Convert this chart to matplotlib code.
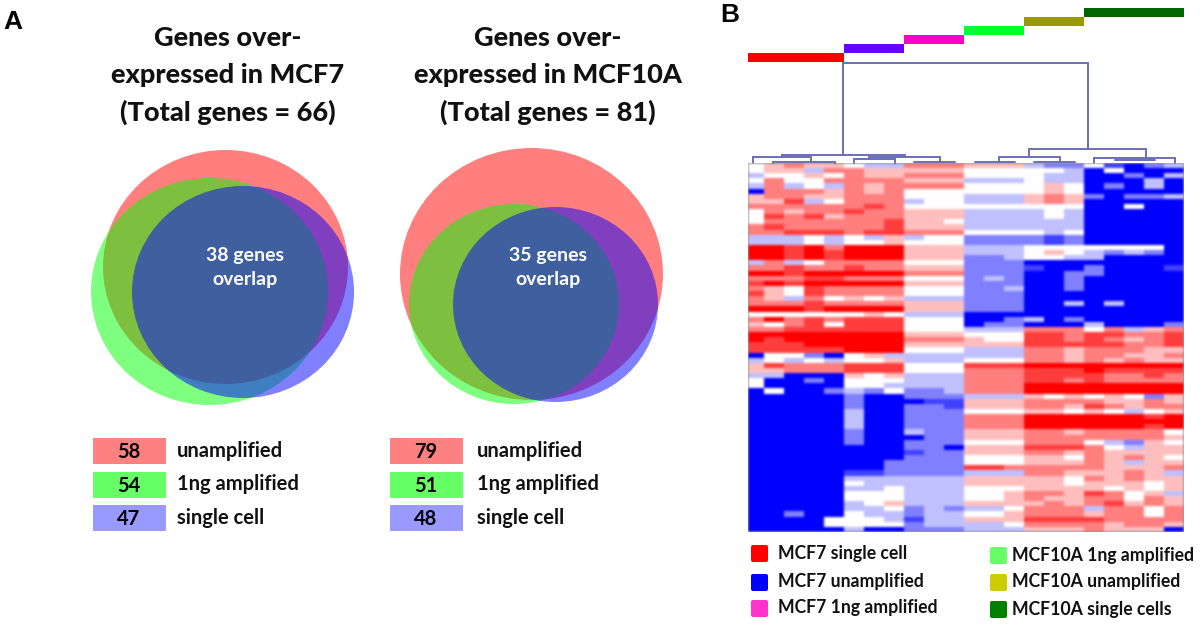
#!/usr/bin/env python3
"""
Venn diagrams of over-expressed genes (A) and clustered heatmap (B)
"""

import numpy as np
import matplotlib
matplotlib.use('Agg')
import matplotlib.pyplot as plt
from matplotlib.colors import to_rgba
from matplotlib.patches import Ellipse, FancyBboxPatch, Rectangle

W, H = 1200, 624
FONT = 'Lato'

# Venn shapes: x, y, width, height (pixels)
VENN_COLORS = ['#ff0000', '#00ff00', '#0000ff']
VENN_MCF7 = [(225.5, 267, 245, 234), (209.5, 291.5, 237, 227), (243, 292, 222, 212)]
VENN_MCF10A = [(531.5, 274, 263, 252), (514, 304, 210, 200), (555.5, 304.5, 205, 195)]

TITLE_MCF7 = ['Genes over-', 'expressed in MCF7', '(Total genes = 66)']
TITLE_MCF10A = ['Genes over-', 'expressed in MCF10A', '(Total genes = 81)']
OVERLAP_MCF7 = ['38 genes', 'overlap']
OVERLAP_MCF10A = ['35 genes', 'overlap']

VENN_LABELS = ['unamplified', '1ng amplified', 'single cell']
COUNTS_MCF7 = [58, 54, 47]
COUNTS_MCF10A = [79, 51, 48]
CHIP_COLORS = ['#ff8080', '#66ff66', '#9999ff']

# Sample colour bar above the heatmap
SAMPLE_COLORS = ['#ff0000', '#6600ff', '#ff00cc', '#00ff33', '#999900', '#006600']
SAMPLE_EDGES = [0.2, 5, 8, 11, 14, 17, 22]

LEGEND_LEFT = ['MCF7 single cell', 'MCF7 unamplified', 'MCF7 1ng amplified']
LEGEND_LEFT_COLORS = ['#ff0000', '#0000ff', '#ff33cc']
LEGEND_RIGHT = ['MCF10A 1ng amplified', 'MCF10A unamplified', 'MCF10A single cells']
LEGEND_RIGHT_COLORS = ['#66ff66', '#cccc00', '#008000']

# Dendrogram segments: x0, y0, x1, y1 (pixels)
DENDRO = [
    (843, 154, 843, 63), (843, 63, 1088, 63), (1088, 63, 1088, 149),
    (1029, 149, 1146, 149), (1029, 149, 1029, 157), (1146, 149, 1146, 158),
    (999, 157, 1060, 157), (999, 157, 999, 162), (1060, 157, 1060, 162),
    (975, 162, 1015, 162), (1034, 162, 1075, 162),
    (1094, 158, 1175, 158), (1094, 158, 1094, 163), (1175, 158, 1175, 163),
    (1115, 160, 1155, 160),
    (782, 155, 905, 155), (782, 155, 782, 157), (905, 155, 905, 157),
    (753, 157, 811, 157), (753, 157, 753, 163), (811, 157, 811, 162),
    (773, 162, 835, 162), (773, 162, 773, 164), (835, 162, 835, 164),
    (869, 157, 940, 157), (869, 157, 869, 159), (940, 157, 940, 162),
    (854, 159, 895, 159), (854, 159, 854, 164), (895, 159, 895, 164),
    (914, 162, 955, 162),
]

# Heatmap rows, one digit per column: 0 = full blue, 4 = white, 8 = full red
# groups of columns are split by spaces to keep them readable
HEAT_ROWS = [
    '45655 433 666 555 322 41023',
    '45536 655 555 444 443 04000',
    '34454 655 666 444 433 00203',
    '46446 666 555 333 433 00030',
    '36343 656 666 444 454 02030',
    '06665 656 444 444 454 00000',
    '56655 666 444 333 565 20223',
    '55734 666 344 333 565 00000',
    '66666 676 444 444 444 00400',
    '46566 766 555 333 343 00000',
    '47675 666 555 333 343 00000',
    '46666 667 554 333 333 00000',
    '67666 667 555 333 333 00000',
    '66777 677 666 444 434 00000',
    '33343 435 344 222 212 00000',
    '33343 445 444 222 212 00000',
    '88786 888 555 333 444 44440',
    '88787 888 555 333 454 32320',
    '88787 888 555 223 443 30000',
    '36346 666 444 222 000 00000',
    '66766 766 555 222 100 20001',
    '88788 888 666 222 002 20000',
    '66677 666 444 232 002 00000',
    '78788 888 555 222 002 00000',
    '65476 666 444 223 002 00000',
    '75476 666 444 222 000 00000',
    '65364 545 333 222 000 00000',
    '66676 666 555 222 003 03000',
    '88878 888 555 222 000 00000',
    '44444 454 333 000 000 00000',
    '68676 777 444 002 302 00000',
    '54674 777 444 022 000 30002',
    '66777 777 444 333 666 46356',
    '88888 888 555 444 776 77667',
    '87888 888 666 544 776 76567',
    '77788 888 555 555 777 77667',
    '77777 888 444 333 665 66655',
    '04420 453 333 333 665 66556',
    '34343 445 333 444 665 65655',
    '57666 777 444 777 888 88888',
    '55666 777 444 666 777 87777',
    '33000 545 333 666 777 76676',
    '40020 444 333 666 776 76666',
    '40000 443 333 666 888 88888',
    '04002 324 223 666 888 88888',
    '00000 200 222 333 545 45425',
    '00000 200 011 555 666 65565',
    '00000 200 221 555 665 76566',
    '00000 300 222 444 554 54345',
    '00000 300 222 666 888 88878',
    '00000 300 222 666 888 88888',
    '00000 300 222 666 888 88878',
    '00000 200 322 555 665 66664',
    '00000 200 022 555 666 66665',
    '00000 200 222 444 666 43254',
    '00000 000 220 555 777 64355',
    '00000 000 122 555 665 65555',
    '00000 000 222 444 554 65654',
    '00000 002 222 444 555 65355',
    '00000 002 222 776 666 65556',
    '00000 112 222 333 665 55653',
    '00000 333 333 555 554 65655',
    '00000 433 333 555 554 55545',
    '00000 334 333 444 555 54545',
    '00000 444 333 445 665 76453',
    '00000 444 333 445 655 66465',
    '00000 345 333 555 565 67565',
    '00000 334 232 334 666 36646',
    '00200 433 233 445 666 56646',
    '00004 443 133 555 777 76666',
    '00004 444 233 334 666 65665',
    '00000 300 222 333 555 65550',
]

heat = np.array([[int(c) for c in row.replace(' ', '')] for row in HEAT_ROWS], dtype=float)
heat = (heat - 4) / 4

fig = plt.figure(figsize=(W / 100, H / 100), dpi=100)
ax = fig.add_axes([0, 0, 1, 1])
ax.set_xlim(0, W)
ax.set_ylim(H, 0)
ax.axis('off')


def soften(image, dpi):
    # the original is a low-res scan, blur by a small kernel
    kernel = np.array([1, 2, 3, 2, 1]) / 9
    out = image.copy()
    for axis in (0, 1):
        out = np.apply_along_axis(lambda v: np.convolve(v, kernel, mode='same'), axis, out)
    return out, 0, 0


def draw_venn(shapes, title, title_x, overlap, overlap_x, chip_x, counts, label_x):
    for (x, y, w, h), col in zip(shapes, VENN_COLORS):
        ax.add_patch(Ellipse((x, y), w, h, facecolor=to_rgba(col, 0.5), edgecolor='none'))

    for i, line in enumerate(title):
        ax.text(title_x, 38 + i * 37, line, ha='center', va='center', family=FONT,
                fontweight='black', fontsize=19.5, color='#111111')
    for i, line in enumerate(overlap):
        ax.text(overlap_x, 255 + i * 25, line, ha='center', va='center', family=FONT,
                fontweight='bold', fontsize=14, color='white')

    for i, (label, n) in enumerate(zip(VENN_LABELS, counts)):
        y = 451 + i * 33.5
        ax.add_patch(Rectangle((chip_x, y - 13), 73, 26, facecolor=CHIP_COLORS[i], edgecolor='none'))
        ax.text(chip_x + 36, y + 1, str(n), ha='center', va='center', family=FONT,
                fontweight='bold', fontsize=14.5, color='black')
        ax.text(label_x, y, label, ha='left', va='center', family=FONT,
                fontweight='bold', fontsize=14.5, color='#111111')


draw_venn(VENN_MCF7, TITLE_MCF7, 228, OVERLAP_MCF7, 245, 93, COUNTS_MCF7, 177)
draw_venn(VENN_MCF10A, TITLE_MCF10A, 548, OVERLAP_MCF10A, 548, 390, COUNTS_MCF10A, 477)

ax.text(3, 22, 'A', ha='left', va='center', family='Liberation Sans', fontweight='bold', fontsize=19)
ax.text(720, 15, 'B', ha='left', va='center', family='Liberation Sans', fontweight='bold', fontsize=19)

# Heatmap, first column is cut narrower in the original
hm = fig.add_axes([748 / W, 1 - 532 / H, 436 / W, 369 / H])
im = hm.imshow(heat, cmap='bwr', vmin=-1, vmax=1, aspect='auto', interpolation='nearest',
               extent=[0, 22, len(HEAT_ROWS), 0])
im.set_agg_filter(soften)
hm.set_xlim(0.2, 22)
hm.axis('off')

# Colour bar steps: x from the heatmap columns
for i, col in enumerate(SAMPLE_COLORS):
    x0 = 748 + (SAMPLE_EDGES[i] - 0.2) * 20
    x1 = 748 + (SAMPLE_EDGES[i + 1] - 0.2) * 20
    y0 = 53 - i * 9
    ax.add_patch(Rectangle((x0, y0), x1 - x0, 9, facecolor=col, edgecolor='none'))

for x0, y0, x1, y1 in DENDRO:
    ax.plot([x0, x1], [y0, y1], color='#6a6fb5', linewidth=1.4, solid_capstyle='round')


def draw_legend(labels, colors, chip_x, text_x, ys):
    for label, col, y in zip(labels, colors, ys):
        ax.add_patch(FancyBboxPatch((chip_x + 2, y - 6), 13, 13, boxstyle='round,pad=2',
                                    facecolor=col, edgecolor='none'))
        ax.text(text_x, y, label, ha='left', va='center', family=FONT, fontweight='bold',
                fontsize=12.7, color='#111111')


draw_legend(LEGEND_LEFT, LEGEND_LEFT_COLORS, 751, 778, [553, 582, 608])
draw_legend(LEGEND_RIGHT, LEGEND_RIGHT_COLORS, 990, 1012, [555, 582, 609])

fig.savefig('out.png', dpi=100)
